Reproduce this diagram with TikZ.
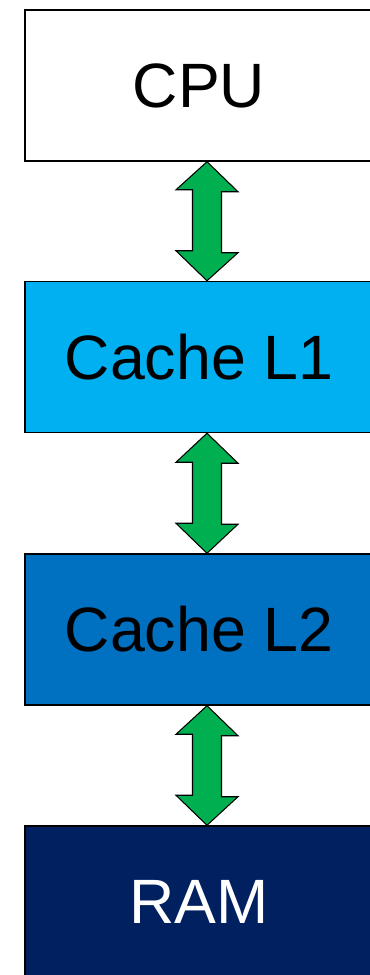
\documentclass[tikz,border=0pt]{standalone}
\usepackage{fontspec}
\setmainfont{Liberation Sans}
\definecolor{cachelone}{HTML}{00B0F0}
\definecolor{cacheltwo}{HTML}{0070C0}
\definecolor{ramblue}{HTML}{002060}
\definecolor{busgreen}{HTML}{00B050}
\begin{document}
\begin{tikzpicture}[x=0.75pt,y=-0.75pt,
  level/.style={draw=black,line width=1.1pt,minimum width=261pt,minimum height=113.25pt,
    inner sep=0pt,font=\fontsize{47}{56}\selectfont},
  bus/.style={draw=black,line width=0.8pt,fill=busgreen,line join=miter}]
\useasboundingbox (0,0) rectangle (370,975);
\begin{scope}
\clip (0,0) rectangle (370,975);
\node[level,fill=white] (cpu) at (199,85.5) {CPU};
\node[level,fill=cachelone] (lone) at (199,357) {Cache L1};
\node[level,fill=cacheltwo] (ltwo) at (199,629.5) {Cache L2};
\node[level,fill=ramblue,text=white] (ram) at (199,901.5) {RAM};
% double-headed bus arrows between neighbouring levels, set a little right of centre
\foreach \a/\b in {cpu/lone,lone/ltwo,ltwo/ram}{
  \draw[bus] ([xshift=6pt]\a.south) -- ++(31,30) -- ++(-16.5,0) -- ++(0,61) -- ++(16.5,0)
    -- ([xshift=6pt]\b.north) -- ++(-31,-30) -- ++(16.5,0) -- ++(0,-61) -- ++(-16.5,0) -- cycle;
}
\end{scope}
\end{tikzpicture}
\end{document}
